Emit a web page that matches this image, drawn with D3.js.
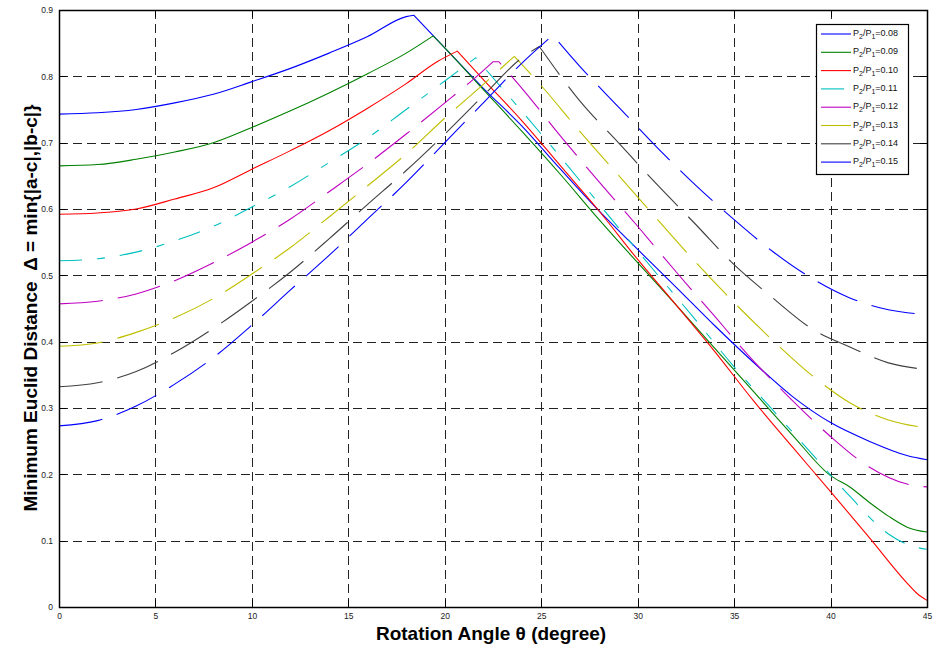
<!DOCTYPE html>
<html><head><meta charset="utf-8">
<script src="https://cdn.jsdelivr.net/npm/d3@7/dist/d3.min.js"></script>
<style>body{margin:0;background:#fff}svg{display:block}</style>
</head><body><svg id="c" width="938" height="648"></svg>
<script>
// ---------- data ----------
const ratioLabels = ["0.08","0.09","0.10","0.11","0.12","0.13","0.14","0.15"];
const xTicks = [0,5,10,15,20,25,30,35,40,45];
const yTicks = [0,0.1,0.2,0.3,0.4,0.5,0.6,0.7,0.8,0.9];

const theta008 = [0,2,4,6,8,10,12,14,16,18,18.4,20,22,24,26,28,30,32,34,36,38,40,42,44,45];
const delta008 = [0.743,0.745,0.750,0.760,0.773,0.792,0.812,0.835,0.860,0.890,0.892,0.843,0.782,0.725,0.660,0.597,0.539,0.482,0.424,0.369,0.318,0.278,0.250,0.228,0.222];

const theta009 = [0,2,4,6,8,10,12,14,16,18,19.4,20,22,24,26,28,30,32,34,36,38,40,41,42,43,44,45];
const delta009 = [0.665,0.667,0.675,0.686,0.700,0.723,0.748,0.775,0.804,0.835,0.861,0.843,0.780,0.717,0.652,0.584,0.519,0.455,0.390,0.325,0.260,0.198,0.181,0.158,0.137,0.120,0.113];

const theta010 = [0,2,4,6,8,10,12,14,16,18,19.6,20.65,22,24,26,28,30,32,34,36,38,40,42,44,44.5,45];
const delta010 = [0.592,0.594,0.600,0.615,0.632,0.660,0.688,0.718,0.752,0.789,0.822,0.838,0.795,0.733,0.665,0.597,0.524,0.455,0.385,0.311,0.242,0.174,0.105,0.035,0.020,0.010];

const theta011 = [0,2,4,6,8,10,12,14,16,18,20,21.6,23,25,27,29,31,33,35,37,39,41,43,44,45];
const delta011 = [0.522,0.525,0.535,0.552,0.574,0.603,0.634,0.670,0.707,0.750,0.793,0.828,0.781,0.713,0.643,0.572,0.502,0.433,0.362,0.297,0.232,0.167,0.110,0.094,0.087];

const theta012 = [0,2,4,6,8,10,12,14,16,18,20,21.3,22.5,22.8,24,26,28,30,32,34,36,38,40,42,44,45];
const delta012 = [0.457,0.461,0.472,0.492,0.519,0.550,0.585,0.626,0.668,0.713,0.760,0.791,0.822,0.822,0.782,0.710,0.641,0.574,0.505,0.438,0.371,0.312,0.257,0.211,0.185,0.181];

const theta013 = [0,2,4,6,8,10,12,14,16,18,20,22,23.6,25,27,29,31,33,35,37,39,41,43,45];
const delta013 = [0.393,0.398,0.414,0.436,0.465,0.502,0.542,0.588,0.635,0.683,0.737,0.788,0.830,0.786,0.717,0.651,0.585,0.520,0.459,0.402,0.350,0.308,0.282,0.270];

const theta014 = [0,2,4,6,8,10,12,14,16,18,20,22,24,24.9,27,29,31,33,35,37,39,41,43,45];
const delta014 = [0.332,0.338,0.355,0.384,0.420,0.461,0.505,0.555,0.607,0.658,0.713,0.771,0.828,0.845,0.763,0.700,0.637,0.577,0.516,0.466,0.420,0.392,0.368,0.358];

const theta015 = [0,2,4,6,8,10,12,14,16,18,20,22,24,25.6,27,29,31,33,35,37,39,41,43,45];
const delta015 = [0.273,0.281,0.303,0.336,0.376,0.425,0.478,0.530,0.585,0.640,0.700,0.760,0.820,0.862,0.815,0.754,0.693,0.636,0.584,0.536,0.496,0.466,0.448,0.441];

const thetas = [theta008,theta009,theta010,theta011,theta012,theta013,theta014,theta015];
const deltas = [delta008,delta009,delta010,delta011,delta012,delta013,delta014,delta015];

// ---------- styles ----------
const colors = ["#0000ff","#008000","#ff0000","#00bfbf","#bf00bf","#bfbf00","#404040","#0000ff"];
const dashes = [null,null,null,"23,15,8,15","44,15","44,15","44,15","44,15"];
const FONT = "Arial, 'Liberation Sans', Helvetica, sans-serif";

const L = 59, R = 927, T = 10, B = 607;
const svg = d3.select("#c");
const x = d3.scaleLinear().domain([0,45]).range([L,R]);
const y = d3.scaleLinear().domain([0,0.9]).range([B,T]);

// grid
const g = svg.append("g");
g.selectAll(".vg").data(xTicks.slice(1,-1)).enter().append("line")
  .attr("x1",d=>Math.round(x(d))+0.5).attr("x2",d=>Math.round(x(d))+0.5)
  .attr("y1",T).attr("y2",B).attr("stroke","#222").attr("stroke-width",1)
  .attr("stroke-dasharray","9,5");
g.selectAll(".hg").data(yTicks.slice(1,-1)).enter().append("line")
  .attr("y1",d=>Math.round(y(d))+0.5).attr("y2",d=>Math.round(y(d))+0.5)
  .attr("x1",L).attr("x2",R).attr("stroke","#222").attr("stroke-width",1)
  .attr("stroke-dasharray","9,5");

// curves: smooth monotone on rising and falling branch, joined at the peak
const line = d3.line().x(d=>x(d[0])).y(d=>y(d[1])).curve(d3.curveMonotoneX);
thetas.forEach((th,i)=>{
  const pts = th.map((t,j)=>[t,deltas[i][j]]);
  const vmax = d3.max(pts,d=>d[1]);
  const pk = pts.findIndex(d=>d[1]===vmax);
  // last index of the (possibly flat) top
  let pk2 = pk; while (pk2+1 < pts.length && pts[pk2+1][1] === vmax) pk2++;
  const rising = pts.slice(0,pk+1);
  const falling = pts.slice(pk2);
  let d = line(rising);
  if (pk2 > pk) d += "L" + x(pts[pk2][0]) + "," + y(pts[pk2][1]);
  d += line(falling).replace(/^M/,"L");
  const p = svg.append("path").attr("d",d)
    .attr("fill","none").attr("stroke",colors[i]).attr("stroke-width",1.1);
  if (dashes[i]) p.attr("stroke-dasharray",dashes[i]);
});

// axes labels
const xAxisB = d3.axisBottom(x).tickValues(xTicks).tickSize(0).tickPadding(6).tickFormat(d3.format("d"));
const yAxisL = d3.axisLeft(y).tickValues(yTicks).tickSize(0).tickPadding(6).tickFormat(d=>d===0?"0":d3.format(".1f")(d));
const ax = svg.append("g").attr("transform",`translate(0,${B})`).call(xAxisB);
const ay = svg.append("g").attr("transform",`translate(${L},0)`).call(yAxisL);
[ax,ay].forEach(a=>{
  a.select(".domain").remove();
  a.selectAll("text").attr("font-family",FONT).attr("font-size",8.5).attr("fill","#222");
});
// inner ticks on all sides
const tk = 7;
svg.selectAll(".tb").data(xTicks).enter().append("line")
  .attr("x1",d=>Math.round(x(d))+0.5).attr("x2",d=>Math.round(x(d))+0.5)
  .attr("y1",B).attr("y2",B-tk).attr("stroke","#000");
svg.selectAll(".tt").data(xTicks).enter().append("line")
  .attr("x1",d=>Math.round(x(d))+0.5).attr("x2",d=>Math.round(x(d))+0.5)
  .attr("y1",T).attr("y2",T+tk).attr("stroke","#000");
svg.selectAll(".tl").data(yTicks).enter().append("line")
  .attr("y1",d=>Math.round(y(d))+0.5).attr("y2",d=>Math.round(y(d))+0.5)
  .attr("x1",L).attr("x2",L+tk).attr("stroke","#000");
svg.selectAll(".tr").data(yTicks).enter().append("line")
  .attr("y1",d=>Math.round(y(d))+0.5).attr("y2",d=>Math.round(y(d))+0.5)
  .attr("x1",R).attr("x2",R-tk).attr("stroke","#000");
svg.append("rect").attr("x",L+0.5).attr("y",T+0.5).attr("width",R-L).attr("height",B-T)
  .attr("fill","none").attr("stroke","#000").attr("stroke-width",1.5);

// axis titles
svg.append("text").attr("x",491).attr("y",640).attr("text-anchor","middle")
  .attr("font-family",FONT).attr("font-weight","bold").attr("font-size",19)
  .text("Rotation Angle θ (degree)");
svg.append("text").attr("transform","translate(37,308) rotate(-90)").attr("text-anchor","middle")
  .attr("font-family",FONT).attr("font-weight","bold").attr("font-size",19)
  .attr("xml:space","preserve")
  .text("Minimum Euclid Distance  Δ = min{|a-c|,|b-c|}");

// legend
const lg = svg.append("g");
lg.append("rect").attr("x",816.5).attr("y",24.5).attr("width",92).attr("height",150)
  .attr("fill","#fff").attr("stroke","#000").attr("stroke-width",1.2);
ratioLabels.forEach((lab,i)=>{
  const yy = 34 + i*18.3;
  const l = lg.append("line").attr("x1",821).attr("x2",851).attr("y1",yy).attr("y2",yy)
    .attr("stroke",colors[i]).attr("stroke-width",1.1);
  if (dashes[i]) l.attr("stroke-dasharray",dashes[i]);
  const t = lg.append("text").attr("x",853).attr("y",yy+2)
    .attr("font-family",FONT).attr("font-size",9).attr("fill","#111");
  t.append("tspan").text("P");
  t.append("tspan").attr("font-size",7).attr("dy",3).text("2");
  t.append("tspan").attr("dy",-3).text("/P");
  t.append("tspan").attr("font-size",7).attr("dy",3).text("1");
  t.append("tspan").attr("dy",-3).text("=" + lab);
});
</script></body></html>
